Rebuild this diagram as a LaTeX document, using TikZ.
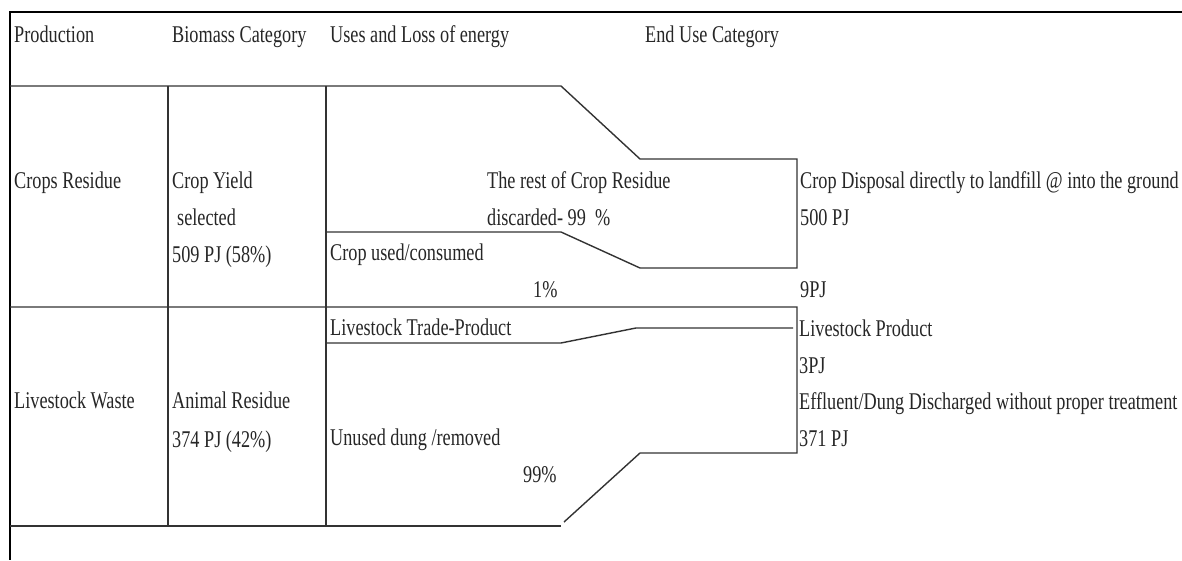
\documentclass[tikz,border=0pt]{standalone}
\usepackage{fontspec}
\setmainfont{Liberation Serif}[FakeStretch=0.76]
\usetikzlibrary{positioning}
\definecolor{color_rule}{RGB}{51,51,51}
\definecolor{color_word}{RGB}{38,38,38}

\begin{document}
\begin{tikzpicture}[x=1pt,y=-1pt,
	cell text/.style={anchor=base west, inner sep=0pt, text=color_word,
		font=\fontsize{24}{24}\selectfont},
	rule line/.style={draw=color_rule, line width=1.4pt},
	frame line/.style={draw=black, line width=2pt}]
	\useasboundingbox (0,0) rectangle (1182,560);
	% FRAME
	\draw[frame line] (1182,12) -- (10,12) -- (10,560);
	% RULES
	\draw[rule line] (10,86) -- (561,86) -- (640,159) -- (797,159) -- (797,268)
		-- (640,268) -- (561,232) -- (326,232);
	\draw[rule line] (168,86) -- (168,526);
	\draw[rule line] (326,86) -- (326,526);
	\draw[rule line] (10,307) -- (797,307) -- (797,453) -- (640,453) -- (564,522);
	\draw[rule line] (10,526) -- (561,526);
	\draw[rule line] (326,343) -- (561,343) -- (636,328) -- (793,328);
	% HEADER
	\node[cell text] (h_prod) at (14,42) {Production};
	\node[cell text] (h_bio)  at (172,42) {Biomass Category};
	\node[cell text] (h_uses) at (330,42) {Uses and Loss of energy};
	\node[cell text] (h_end)  at (645,42) {End Use Category};
	% CROPS
	\node[cell text] (crop_prod) at (14,188) {Crops Residue};
	\node[cell text] (crop_bio1) at (172,188) {Crop Yield};
	\node[cell text] (crop_bio2) at (177,225) {selected};
	\node[cell text] (crop_bio3) at (172,262) {509 PJ (58\%)};
	\node[cell text] (crop_rest1) at (487,188) {The rest of Crop Residue};
	\node[cell text] (crop_rest2) at (487,225) {discarded- 99\ \ \%};
	\node[cell text] (crop_used) at (330,260) {Crop used/consumed};
	\node[cell text] (crop_pct) at (533,297) {1\%};
	\node[cell text] (crop_end1) at (800,188) {Crop Disposal directly to landfill @ into the ground};
	\node[cell text] (crop_end2) at (800,225) {500 PJ};
	\node[cell text] (crop_end3) at (800,297) {9PJ};
	% LIVESTOCK
	\node[cell text] (live_prod) at (14,408) {Livestock Waste};
	\node[cell text] (live_bio1) at (172,408) {Animal Residue};
	\node[cell text] (live_bio2) at (172,447) {374 PJ (42\%)};
	\node[cell text] (live_trade) at (330,335) {Livestock Trade-Product};
	\node[cell text] (live_dung) at (330,445) {Unused dung /removed};
	\node[cell text] (live_pct) at (523,482) {99\%};
	\node[cell text] (live_end1) at (799,336) {Livestock Product};
	\node[cell text] (live_end2) at (799,373) {3PJ};
	\node[cell text] (live_end3) at (799,409) {Effluent/Dung Discharged without proper treatment};
	\node[cell text] (live_end4) at (799,446) {371 PJ};
\end{tikzpicture}
\end{document}
